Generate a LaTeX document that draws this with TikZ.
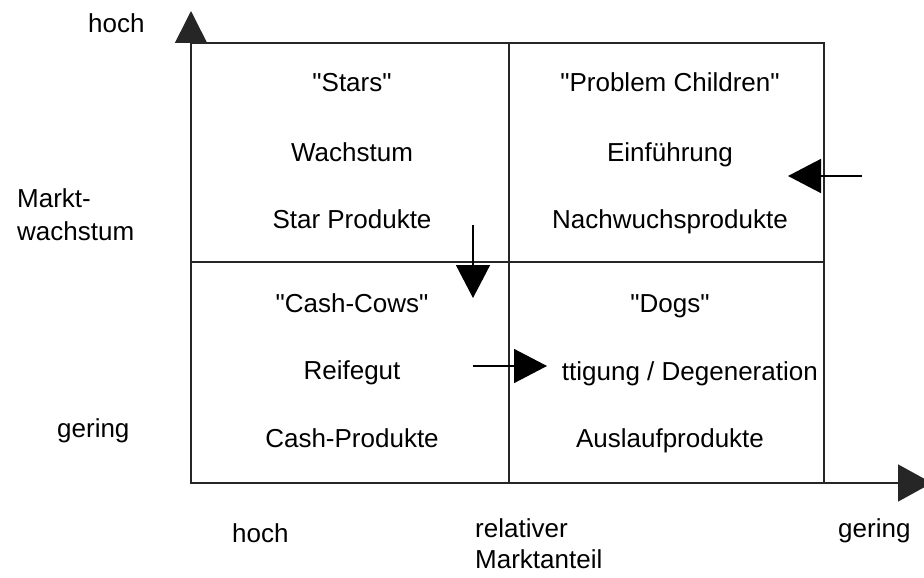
\documentclass[tikz,border=0pt]{standalone}
\usepackage{fontspec}
\setmainfont{Liberation Sans}[Ligatures=TeXOff]
\usetikzlibrary{arrows.meta}
\begin{document}
\begin{tikzpicture}[x=1pt,y=-1pt,
  frame/.style={line width=1.6pt, draw=black!85},
  txt/.style={font=\fontsize{26}{30}\selectfont, inner sep=0pt, anchor=base},
  txtw/.style={txt, anchor=base west},
  axistip/.style={-{Triangle[length=32pt,width=32pt]}},
  xaxistip/.style={-{Triangle[length=34pt,width=37pt]}},
  movetip/.style={line width=1.6pt, draw=black, -{Triangle[length=33pt,width=34pt]}}
]
\useasboundingbox (0,0) rectangle (924,578);

% portfolio grid and axes
\coordinate (o) at (191,483);
\coordinate (ytop) at (191,11);
\coordinate (xend) at (932,483);
\draw[frame] (191,43) rectangle (824,483);
\draw[frame] (509,43) -- (509,483);
\draw[frame] (191,262) -- (824,262);
\draw[frame, axistip] (o) -- (ytop);
\draw[frame, xaxistip] (o) -- (xend);

% axis labels
\node[txtw] (yhigh) at (88,33) {hoch};
\node[txtw] (ylab1) at (17,207) {Markt-};
\node[txtw] (ylab2) at (17,240) {wachstum};
\node[txtw] (ylow) at (57,437) {gering};
\node[txtw] (xhigh) at (232,542) {hoch};
\node[txtw] (xlab1) at (475,537) {relativer};
\node[txtw] (xlab2) at (475,568) {Marktanteil};
\node[txtw] (xlow) at (838,537) {gering};

% quadrant texts
\node[txt] (stars) at (352,92) {"Stars"};
\node[txt] (starsphase) at (352,161) {Wachstum};
\node[txt] (starsprod) at (352,228) {Star Produkte};
\node[txt] (prob) at (670,92) {"Problem Children"};
\node[txt] (probphase) at (670,161) {Einführung};
\node[txt] (probprod) at (670,228) {Nachwuchsprodukte};
\node[txt] (cows) at (352,312) {"Cash-Cows"};
\node[txt] (cowsphase) at (352,379) {Reifegut};
\node[txt] (cowsprod) at (352,447) {Cash-Produkte};
\node[txt] (dogs) at (670,312) {"Dogs"};
\node[txt, anchor=base east] (dogsphase) at (818,380) {ttigung / Degeneration};
\node[txt] (dogsprod) at (670,447) {Auslaufprodukte};

% life-cycle arrows
\coordinate (inS) at (862,176);
\coordinate (inE) at (788,176);
\coordinate (dnS) at (473,225);
\coordinate (dnE) at (473,298);
\coordinate (rtS) at (473,366);
\coordinate (rtE) at (547,366);
\draw[movetip] (inS) -- (inE);
\draw[movetip] (dnS) -- (dnE);
\draw[movetip] (rtS) -- (rtE);
\end{tikzpicture}
\end{document}
